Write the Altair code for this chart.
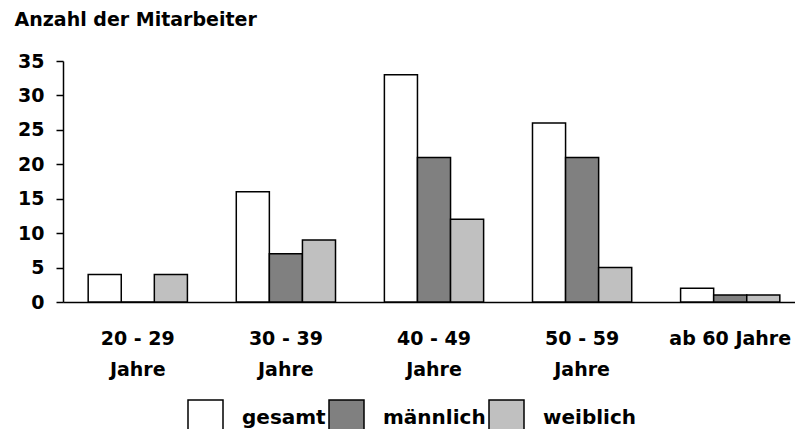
import altair as alt
import pandas as pd

categories = ["20 - 29 Jahre", "30 - 39 Jahre", "40 - 49 Jahre", "50 - 59 Jahre", "ab 60 Jahre"]
series = ["gesamt", "männlich", "weiblich"]
gesamt = [4, 16, 33, 26, 2]
maennlich = [0, 7, 21, 21, 1]
weiblich = [4, 9, 12, 5, 1]
y_ticks = [0, 5, 10, 15, 20, 25, 30, 35]
colors = ["#FFFFFF", "#808080", "#C0C0C0"]

rows = []
for i, c in enumerate(categories):
    for s, vals in zip(series, [gesamt, maennlich, weiblich]):
        rows.append({"Altersgruppe": c, "Serie": s, "Anzahl": vals[i]})
df = pd.DataFrame(rows)

FONT = "DejaVu Sans"

chart = alt.Chart(df).mark_bar(stroke="black", strokeWidth=1.5).encode(
    x=alt.X("Altersgruppe:N", sort=categories,
            scale=alt.Scale(range=[0, 742], paddingInner=0.33, paddingOuter=0.17),
            axis=alt.Axis(title=None, labelAngle=0, ticks=False, domainColor="black",
                          domainWidth=1.5, labelPadding=27, labelLineHeight=31,
                          labelFontSize=19, labelFontWeight="bold", labelFont=FONT,
                          labelColor="black", labelLimit=300,
                          labelExpr="datum.label == 'ab 60 Jahre' ? datum.label : [replace(datum.label, ' Jahre', ''), 'Jahre']")),
    xOffset=alt.XOffset("Serie:N", sort=series, scale=alt.Scale(paddingInner=0, paddingOuter=0)),
    y=alt.Y("Anzahl:Q", scale=alt.Scale(domain=[0, 35], nice=False),
            axis=alt.Axis(title=None, values=y_ticks, grid=False, tickSize=7, tickWidth=1.5,
                          tickColor="black", domainColor="black", domainWidth=1.5,
                          labelPadding=12, labelFontSize=19, labelFontWeight="bold",
                          labelFont=FONT, labelColor="black")),
    color=alt.Color("Serie:N", sort=series,
                    scale=alt.Scale(domain=series, range=colors),
                    legend=alt.Legend(title=None, orient="none", legendX=124, legendY=338,
                                      direction="horizontal", symbolType="square",
                                      symbolSize=1225, symbolStrokeColor="black",
                                      symbolStrokeWidth=1.5, symbolOpacity=1,
                                      labelFontSize=20, labelFontWeight="bold", labelFont=FONT,
                                      labelColor="black", labelOffset=18, columnPadding=0,
                                      labelLimit=300)),
).properties(
    width=732,
    height=241,
    title=alt.TitleParams("Anzahl der Mitarbeiter", anchor="start", frame="bounds",
                          font=FONT, fontSize=19, fontWeight="bold", color="black",
                          offset=22, dx=-3),
    autosize=alt.AutoSizeParams(type="none"),
    padding={"left": 55, "top": 53, "right": 0, "bottom": 127},
).configure_view(stroke=None)

chart.save("out.html", embed_options={"renderer": "svg", "actions": False})
